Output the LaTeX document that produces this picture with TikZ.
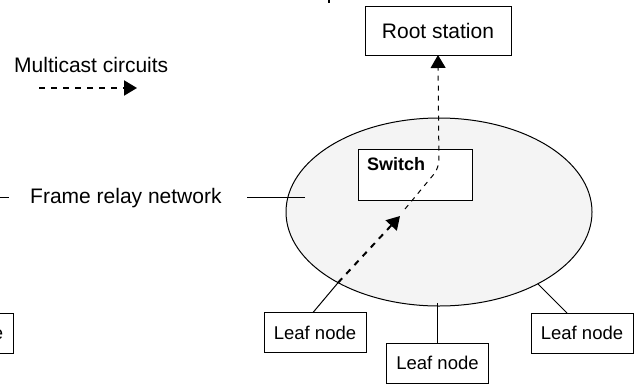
\documentclass[tikz,border=0pt]{standalone}
\usepackage{fontspec}
\setmainfont{Liberation Sans}
\usetikzlibrary{arrows.meta,shapes.geometric,calc}
\definecolor{netfill}{RGB}{244,244,244}
\tikzset{
  px/.style={x=1pt,y=-1pt},
  box/.style={draw,line width=1pt,inner sep=0pt,outer sep=0pt,fill=white},
  leafbox/.style={box,minimum width=102pt,minimum height=40pt,font=\fontsize{18.5}{22}\selectfont},
  biglabel/.style={inner sep=0pt,font=\fontsize{21}{25}\selectfont},
  wire/.style={line width=1pt},
  tip/.style={-{Triangle[length=13pt,width=15pt]}},
  thickdash/.style={line width=2pt,dash pattern=on 6pt off 6pt},
  thindash/.style={line width=1pt,dash pattern=on 5pt off 5pt},
}
\begin{document}
\begin{tikzpicture}[px]
\useasboundingbox (0,0) rectangle (636,383);

% frame relay cloud and the switch inside it
\node[draw,line width=1pt,ellipse,fill=netfill,minimum width=306pt,minimum height=188pt,
      inner sep=0pt,outer sep=0pt] (net) at (439,212) {};
\node[box,minimum width=114pt,minimum height=51pt] (switch) at (415,174.5) {};
\node[anchor=base west,inner sep=0pt,font=\fontsize{18}{22}\selectfont\bfseries] (switchlbl) at (367,170) {Switch};

% root and leaf stations
\node[box,minimum width=146pt,minimum height=49pt,font=\fontsize{21}{25}\selectfont] (root) at (438,30.5) {Root station};
\node[leafbox] (leafA) at (315,332.5) {Leaf node};
\node[leafbox] (leafB) at (437.5,363) {Leaf node};
\node[leafbox] (leafC) at (582,333) {Leaf node};
\node[leafbox] (leafD) at (-38,333) {Leaf node};

% access lines from the leaves into the network
\coordinate (attA) at (net.215.4);
\coordinate (attC) at (net.324.6);
\draw[wire] ($(leafA.north west)+(49,0)$) -- (attA);
\draw[wire] (leafB.north) -- ++(0,-40);
\draw[wire] ($(leafC.north west)+(36,0)$) -- (attC);

% legend
\node[biglabel,anchor=base west] (mclbl) at (14,72) {Multicast circuits};
\coordinate (legA) at (39,88);
\coordinate (legB) at (137,88);
\draw[thickdash,tip] (legA) -- (legB);

\node[biglabel,anchor=base west] (frlbl) at (30,203) {Frame relay network};
\coordinate (frL) at (0,197);
\coordinate (frR) at (305,197);
\draw[wire] (frL) -- ++(9,0);
\draw[wire] (frR) -- ++(-58,0);

% multicast circuit: leaf -> switch -> root
\coordinate (mid) at (400,216);
\coordinate (bend) at (439,168);
\draw[thickdash,tip] (attA) -- (mid);
\draw[thindash,tip,rounded corners=8pt] (405,209) -- (bend) -- (root.south);

% fragment at the top edge
\draw[line width=1.5pt] (329,0) -- (329,3);
\end{tikzpicture}
\end{document}
